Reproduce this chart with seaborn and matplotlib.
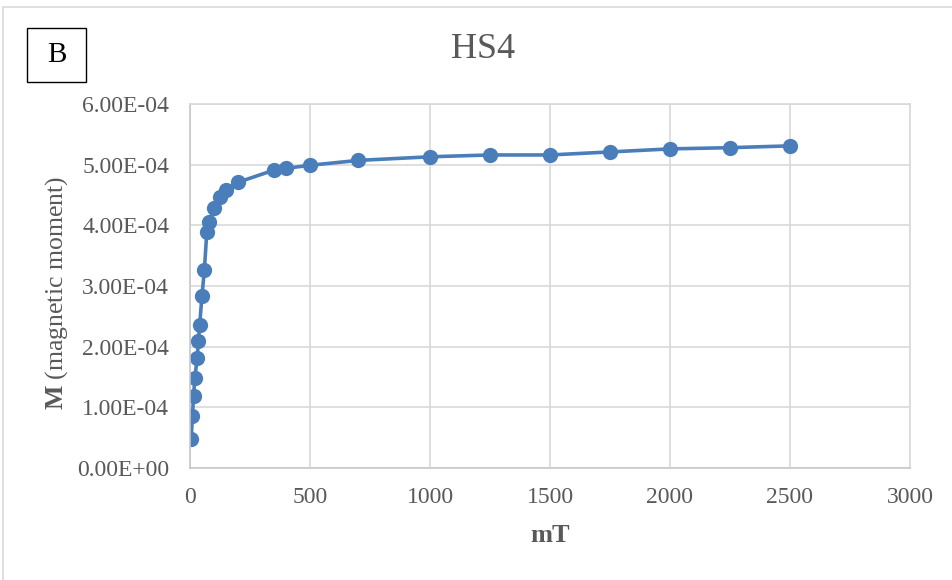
import matplotlib
matplotlib.use("Agg")
import matplotlib.pyplot as plt
from matplotlib.patches import Rectangle
import seaborn as sns
import pandas as pd

# Applied field (mT) and measured magnetic moment for sample HS4
field_mT = [5, 10, 15, 20, 30, 35, 40, 50, 60, 70, 80, 100, 125, 150, 200,
            350, 400, 500, 700, 1000, 1250, 1500, 1750, 2000, 2250, 2500]
moment = [4.8e-5, 8.5e-5, 1.19e-4, 1.48e-4, 1.81e-4, 2.10e-4, 2.35e-4,
          2.84e-4, 3.27e-4, 3.89e-4, 4.05e-4, 4.29e-4, 4.47e-4, 4.58e-4,
          4.71e-4, 4.91e-4, 4.94e-4, 4.99e-4, 5.07e-4, 5.13e-4, 5.16e-4,
          5.16e-4, 5.21e-4, 5.26e-4, 5.28e-4, 5.31e-4]
x_ticks = [0, 500, 1000, 1500, 2000, 2500, 3000]
y_ticks = [0, 1e-4, 2e-4, 3e-4, 4e-4, 5e-4, 6e-4]

df = pd.DataFrame({"mT": field_mT, "M": moment})

sns.set_style("whitegrid")
plt.rcParams["font.family"] = ["Liberation Serif", "DejaVu Serif"]
plt.rcParams["mathtext.fontset"] = "custom"
plt.rcParams["mathtext.rm"] = "Liberation Serif"
plt.rcParams["mathtext.bf"] = "Liberation Serif:bold"

W, H = 953, 580
fig = plt.figure(figsize=(W / 100, H / 100), dpi=100)
ax = fig.add_axes([190 / W, 1 - 468 / H, 720 / W, 364 / H])

blue = "#4a7ebb"
sns.lineplot(data=df, x="mT", y="M", ax=ax, color=blue, linewidth=2.6,
             marker="o", markersize=11, markeredgewidth=0,
             markerfacecolor=blue, sort=False)

grid_c = "#d9d9d9"
text_c = "#595959"
ax.set_xlim(0, 3000)
ax.set_ylim(0, 6e-4)
ax.set_xticks(x_ticks)
ax.set_yticks(y_ticks)
ax.set_xticklabels([str(v) for v in x_ticks])
ax.set_yticklabels([f"{v:.2E}" for v in y_ticks])
ax.grid(True, color=grid_c, linewidth=1.2)
for side, sp in ax.spines.items():
    sp.set_visible(True)
    sp.set_color(grid_c)
    sp.set_linewidth(1.2)
ax.spines["bottom"].set_color("#c8c8c8")
ax.spines["left"].set_color("#c8c8c8")
ax.tick_params(axis="both", length=0, labelsize=17, labelcolor=text_c)
ax.tick_params(axis="y", pad=15)
ax.tick_params(axis="x", pad=14)

ax.set_xlabel("mT", fontsize=19, fontweight="bold", color=text_c)
ax.xaxis.set_label_coords(0.5, -(535 - 468) / 364)
ax.xaxis.label.set_verticalalignment("center")
ax.set_ylabel(r"$\mathbf{M}$ (magnetic moment)", fontsize=18.5, color=text_c)
ax.yaxis.set_label_coords((57 - 190) / 720, 0.48)
ax.yaxis.label.set_verticalalignment("center")

fig.text(483 / W, 1 - 50 / H, "HS4", fontsize=26, color=text_c,
         ha="center", va="center")

# chart frame and panel letter box
fig.patches.append(Rectangle((3 / W, -0.1), 1.2, 1 - 7 / H + 0.1,
                             transform=fig.transFigure, fill=False,
                             edgecolor=grid_c, linewidth=1.2))
fig.patches.append(Rectangle((27 / W, 1 - 82 / H), 59 / W, 54 / H,
                             transform=fig.transFigure, fill=False,
                             edgecolor="black", linewidth=1.0))
fig.text(56.5 / W, 1 - 55 / H, "B", fontsize=21, color="black",
         ha="center", va="center")

fig.savefig("out.png", dpi=100)
